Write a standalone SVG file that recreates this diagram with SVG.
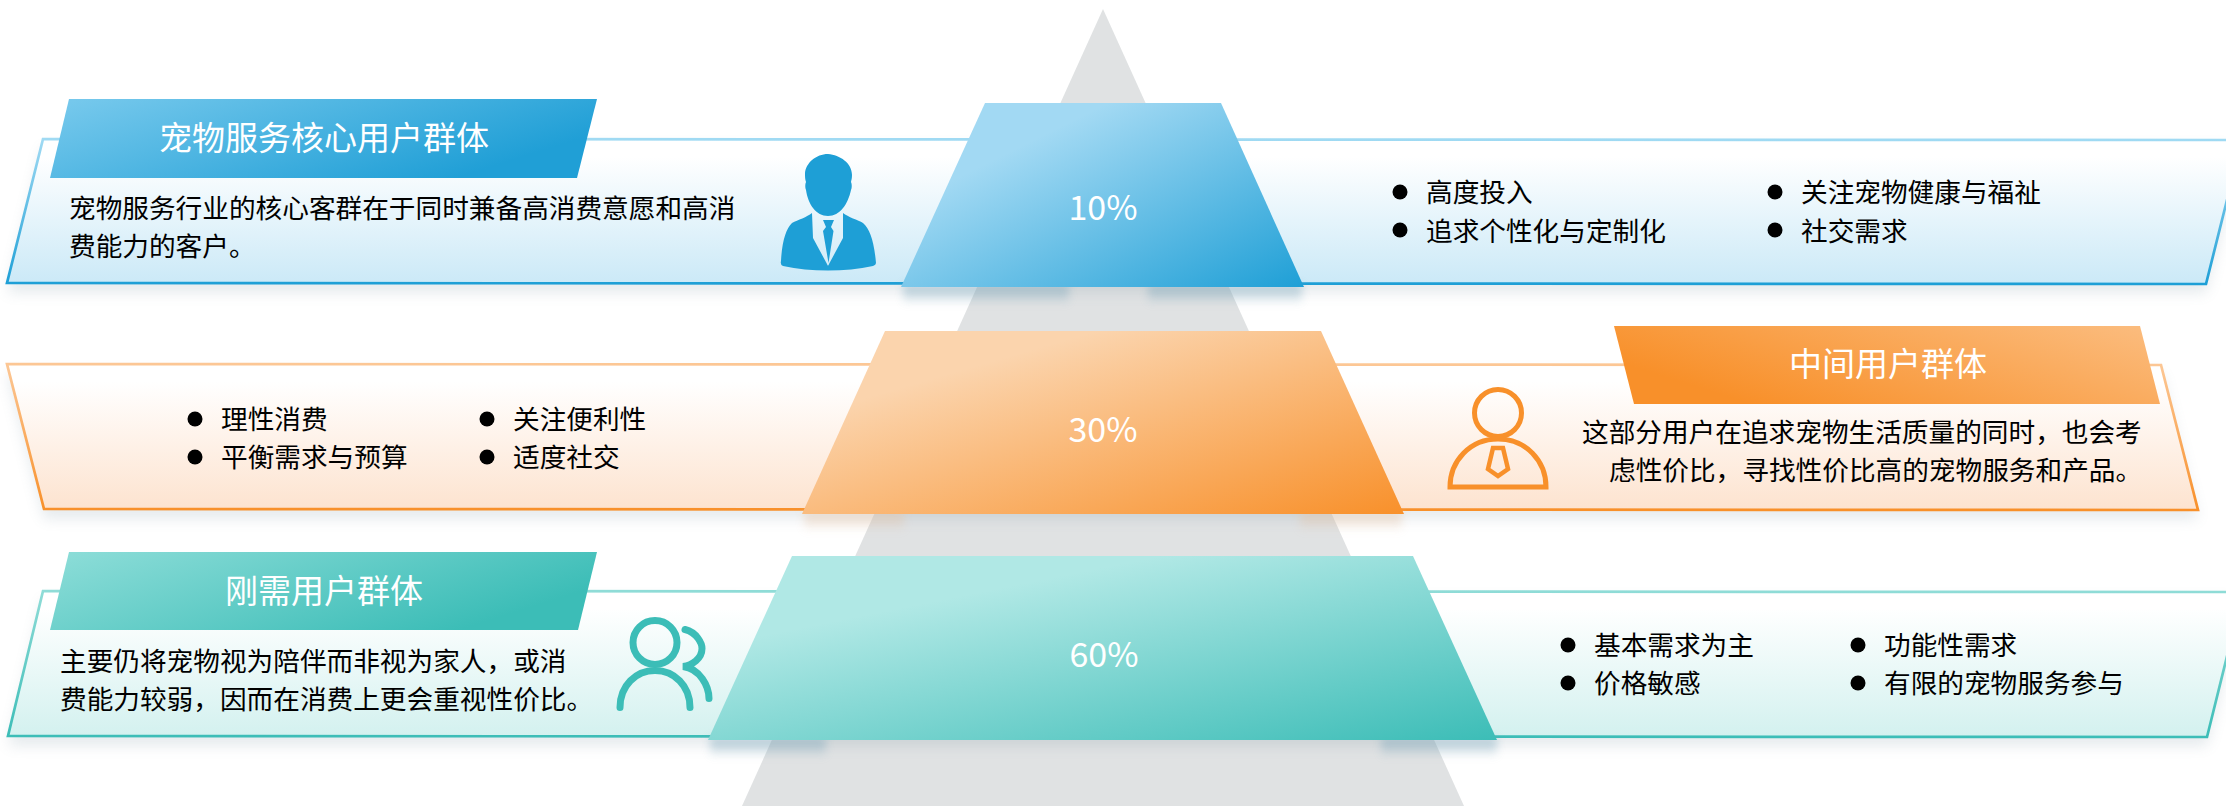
<svg xmlns="http://www.w3.org/2000/svg" width="2226" height="806" viewBox="0 0 2226 806">
<style>
text{font-family:"Noto Sans CJK SC","Noto Sans",sans-serif;}
.t{font-size:33px;fill:#fff;text-anchor:middle;}
.p{font-size:34px;fill:#fff;text-anchor:middle;}
.b{font-size:26.67px;fill:#000;}
.shadow{fill:#5b7a8c;opacity:.15;filter:url(#blur);}
.tshadow{opacity:.6;filter:url(#blur2);}
</style>
<defs>
<filter id="blur" x="-5%" y="-30%" width="110%" height="160%"><feGaussianBlur stdDeviation="7"/></filter>
<filter id="blur2" x="-20%" y="-100%" width="140%" height="300%"><feGaussianBlur stdDeviation="4"/></filter>
<linearGradient id="fb" x1="0" y1="0" x2="0" y2="1"><stop offset=".12" stop-color="#fff"/><stop offset="1" stop-color="#cbe9f7"/></linearGradient>
<linearGradient id="sb" x1="0" y1="0" x2="0" y2="1"><stop offset="0" stop-color="#a0daf3"/><stop offset="1" stop-color="#1e9fd6"/></linearGradient>
<linearGradient id="fo" x1="0" y1="0" x2="0" y2="1"><stop offset=".12" stop-color="#fff"/><stop offset="1" stop-color="#fde3cf"/></linearGradient>
<linearGradient id="so" x1="0" y1="0" x2="0" y2="1"><stop offset="0" stop-color="#fcc795"/><stop offset="1" stop-color="#f8902a"/></linearGradient>
<linearGradient id="ft" x1="0" y1="0" x2="0" y2="1"><stop offset=".12" stop-color="#fff"/><stop offset="1" stop-color="#d3f1ef"/></linearGradient>
<linearGradient id="st" x1="0" y1="0" x2="0" y2="1"><stop offset="0" stop-color="#8fdcd7"/><stop offset="1" stop-color="#3cbdb7"/></linearGradient>
<linearGradient id="tb" gradientUnits="userSpaceOnUse" x1="140" y1="80" x2="197" y2="260"><stop offset="0" stop-color="#75c8ec"/><stop offset="1" stop-color="#209fd6"/></linearGradient>
<linearGradient id="to" gradientUnits="userSpaceOnUse" x1="2070" y1="307" x2="2013" y2="487"><stop offset="0" stop-color="#fbbb7c"/><stop offset="1" stop-color="#f8902a"/></linearGradient>
<linearGradient id="tt" gradientUnits="userSpaceOnUse" x1="140" y1="533" x2="197" y2="713"><stop offset="0" stop-color="#8adcd7"/><stop offset="1" stop-color="#3cbdb7"/></linearGradient>
<linearGradient id="pb" gradientUnits="userSpaceOnUse" x1="1199" y1="58" x2="1311" y2="284"><stop offset="0" stop-color="#a2d9f3"/><stop offset="1" stop-color="#1e9fd6"/></linearGradient>
<linearGradient id="po" gradientUnits="userSpaceOnUse" x1="1304" y1="271" x2="1377" y2="523"><stop offset="0" stop-color="#fbd4ad"/><stop offset="1" stop-color="#f8902a"/></linearGradient>
<linearGradient id="pt" gradientUnits="userSpaceOnUse" x1="1403" y1="508" x2="1451" y2="749"><stop offset="0" stop-color="#b0e8e5"/><stop offset="1" stop-color="#3cbdb7"/></linearGradient>
<linearGradient id="sh1" x1="0" y1="0" x2="0" y2="1"><stop offset="0" stop-color="#7ba6ba"/><stop offset="1" stop-color="#7ba6ba" stop-opacity="0"/></linearGradient>
<linearGradient id="sh2" x1="0" y1="0" x2="0" y2="1"><stop offset="0" stop-color="#e3c3a8"/><stop offset="1" stop-color="#e3c3a8" stop-opacity="0"/></linearGradient>
</defs>

<polygon id="pyramid" points="1103,9 1464,806 742,806" fill="#e0e2e3"/>

<g id="connectors"></g>

<g id="band-core">
<polygon class="shadow" points="43,148 2242,148 2206,293 7,293"/>
<polygon points="43,139 2242,140 2206,284 7,283" fill="url(#fb)" stroke="url(#sb)" stroke-width="2.7"/>
<polygon points="69,99 597,99 577,178 50,178" fill="url(#tb)"/>
<text class="t" x="324" y="150">宠物服务核心用户群体</text>
<text class="b" x="69" y="218">宠物服务行业的核心客群在于同时兼备高消费意愿和高消</text>
<text class="b" x="69" y="256">费能力的客户。</text>
<g fill="#1e9fd6" transform="translate(0,1)">
<path d="M828 153C840 154 852 162 852 174C852 178 851 180 851 181C852 183 852 187 851 189C848 203 840 215 828 215C816 215 808 203 806 189C805 187 805 183 806 181C805 178 805 176 805 172C806 162 816 153 828 153Z"/>
<path d="M812 212L813 237L827 263Q828 266 829 263L843 237L843 212C848 216 858 219 863 222C870 228 874 240 876 262Q876 264 873 265C845 271 811 271 783 265Q780 264 781 260C782 240 786 228 792 222C798 219 807 216 812 212Z"/>
<path d="M823 219H834L831 226L833.5 230L828.5 262L823 230L826 226Z"/>
</g>
<circle cx="1400" cy="192" r="7.5"/><text class="b" x="1426" y="202">高度投入</text>
<circle cx="1400" cy="230" r="7.5"/><text class="b" x="1426" y="241">追求个性化与定制化</text>
<circle cx="1775" cy="192" r="7.5"/><text class="b" x="1801" y="202">关注宠物健康与福祉</text>
<circle cx="1775" cy="230" r="7.5"/><text class="b" x="1801" y="241">社交需求</text>
</g>

<g id="trap-core">
<rect class="tshadow" x="903" y="285" width="166" height="20" fill="url(#sh1)"/>
<rect class="tshadow" x="1148" y="285" width="154" height="20" fill="url(#sh1)"/>
<polygon points="985,103 1221,103 1304,287 901,287" fill="url(#pb)"/>
<text class="p" x="1103" y="220">10%</text>
</g>

<g id="band-middle">
<polygon class="shadow" points="7,373 2161,373 2198,519 44,519"/>
<polygon points="7,364 2161,365 2198,510 44,509" fill="url(#fo)" stroke="url(#so)" stroke-width="2.7"/>
<polygon points="1614,326 2140,326 2160,404 1634,404" fill="url(#to)"/>
<text class="t" x="1888" y="376">中间用户群体</text>
<text class="b" x="1582" y="442">这部分用户在追求宠物生活质量的同时，也会考</text>
<text class="b" x="1609" y="480">虑性价比，寻找性价比高的宠物服务和产品。</text>
<g fill="none" stroke="#f8902a" stroke-width="5" transform="translate(0,1)">
<circle cx="1498" cy="412" r="23.5"/>
<path d="M1450 486C1450 460 1470 438 1498 438C1526 438 1546 460 1546 486Z"/>
<path d="M1493 447H1503L1508 468L1498 475L1488 468Z" stroke-width="4.5"/>
</g>
<circle cx="195" cy="419" r="7.5"/><text class="b" x="221" y="429">理性消费</text>
<circle cx="195" cy="457" r="7.5"/><text class="b" x="221" y="467">平衡需求与预算</text>
<circle cx="487" cy="419" r="7.5"/><text class="b" x="513" y="429">关注便利性</text>
<circle cx="487" cy="457" r="7.5"/><text class="b" x="513" y="467">适度社交</text>
</g>

<g id="trap-middle">
<rect class="tshadow" x="804" y="512" width="100" height="20" fill="url(#sh2)"/>
<rect class="tshadow" x="1300" y="512" width="102" height="20" fill="url(#sh2)"/>
<polygon points="885,331 1321,331 1404,514 802,514" fill="url(#po)"/>
<text class="p" x="1103" y="442">30%</text>
</g>

<g id="band-base">
<polygon class="shadow" points="43,600 2243,600 2207,746 8,746"/>
<polygon points="43,591 2243,592 2207,737 8,736" fill="url(#ft)" stroke="url(#st)" stroke-width="2.7"/>
<polygon points="69,552 597,552 578,630 50,630" fill="url(#tt)"/>
<text class="t" x="324" y="603">刚需用户群体</text>
<text class="b" x="60" y="671">主要仍将宠物视为陪伴而非视为家人，或消</text>
<text class="b" x="60" y="709">费能力较弱，因而在消费上更会重视性价比。</text>
<g fill="none" stroke="#3cbdb7" stroke-width="7" stroke-linecap="round" transform="translate(0,1.5)">
<circle cx="655" cy="641" r="22"/>
<path d="M620 706C620 684 636 669 655 669C674 669 690 684 690 706"/>
<path d="M685 628C697 631 702 642 702 647C702 657 692 664 683 665C700 667 709 685 709 697"/>
</g>
<circle cx="1568" cy="645" r="7.5"/><text class="b" x="1594" y="655">基本需求为主</text>
<circle cx="1568" cy="683" r="7.5"/><text class="b" x="1594" y="693">价格敏感</text>
<circle cx="1858" cy="645" r="7.5"/><text class="b" x="1884" y="655">功能性需求</text>
<circle cx="1858" cy="683" r="7.5"/><text class="b" x="1884" y="693">有限的宠物服务参与</text>
</g>

<g id="trap-base">
<rect class="tshadow" x="710" y="738" width="116" height="20" fill="url(#sh1)"/>
<rect class="tshadow" x="1381" y="738" width="116" height="20" fill="url(#sh1)"/>
<polygon points="792,556 1413,556 1497,740 708,740" fill="url(#pt)"/>
<text class="p" x="1104" y="667">60%</text>
</g>
</svg>
